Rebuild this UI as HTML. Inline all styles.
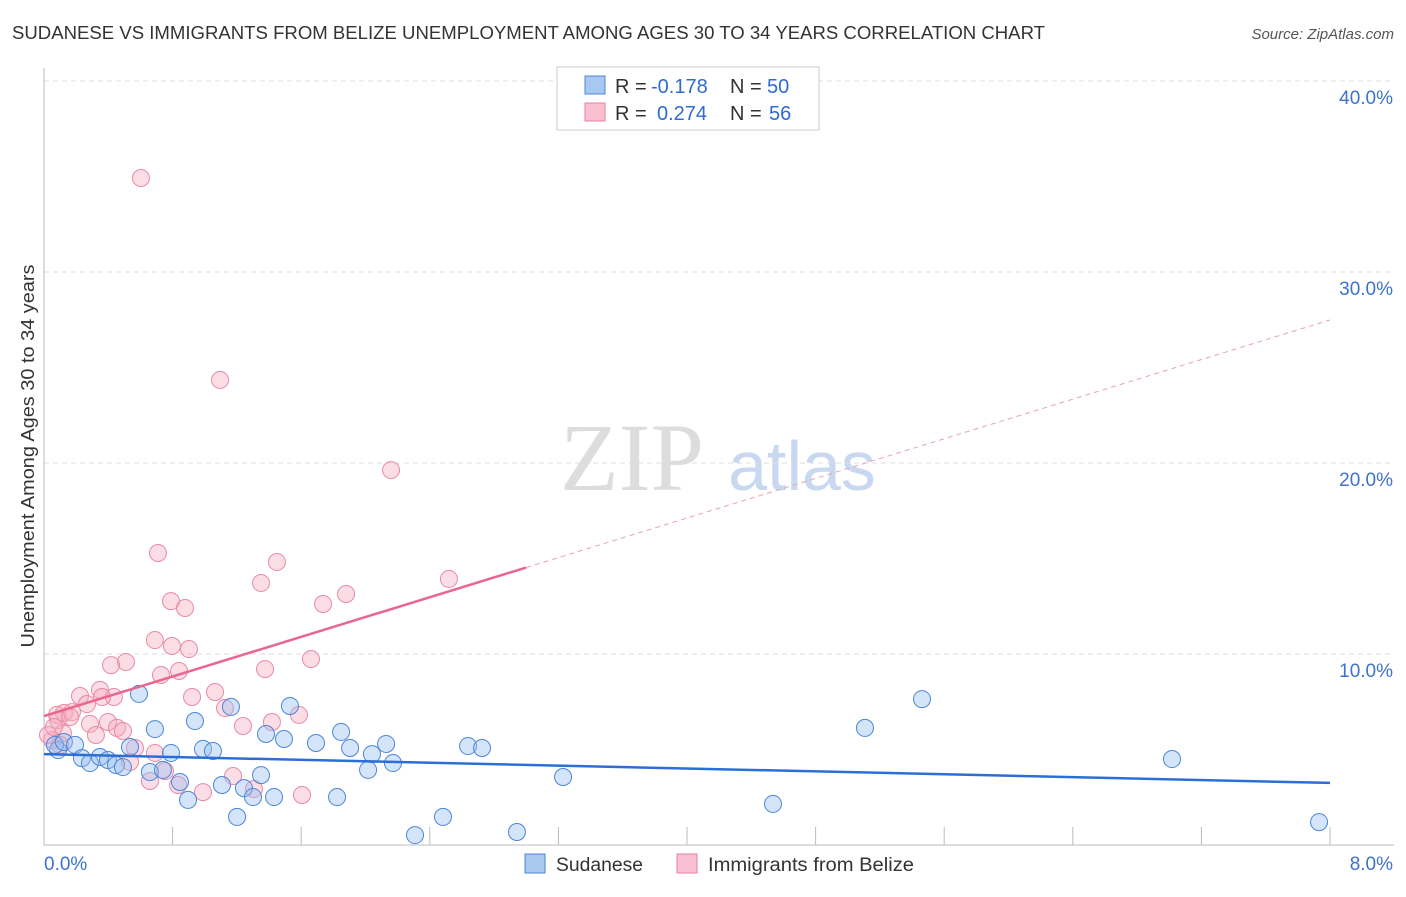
<!DOCTYPE html>
<html><head><meta charset="utf-8"><style>
body{margin:0;background:#fff;font-family:"Liberation Sans",sans-serif}
</style></head><body>
<svg width="1406" height="892" xmlns="http://www.w3.org/2000/svg" font-family="Liberation Sans, sans-serif">
<text x="12" y="39" font-size="18" fill="#333" textLength="1033" lengthAdjust="spacingAndGlyphs">SUDANESE VS IMMIGRANTS FROM BELIZE UNEMPLOYMENT AMONG AGES 30 TO 34 YEARS CORRELATION CHART</text>
<text x="1394" y="39" font-size="15" fill="#555" font-style="italic" text-anchor="end">Source: ZipAtlas.com</text>
<g>
<text x="632" y="490" font-size="96" fill="#ddd" font-family="Liberation Serif, serif" text-anchor="middle">ZIP</text>
<text x="802" y="490" font-size="70" fill="#c8d8f0" text-anchor="middle">atlas</text>
</g>
<g id="grid"></g>
<g id="axes"></g>
<g id="marks"></g>
<text x="34" y="456" font-size="18" fill="#333" transform="rotate(-90 34 456)" text-anchor="middle" textLength="383" lengthAdjust="spacingAndGlyphs">Unemployment Among Ages 30 to 34 years</text>
<g>
<rect x="557" y="67" width="262" height="63" fill="#fff" stroke="#ccc"/>
<rect x="585" y="76" width="20" height="18" fill="#a9c8f0" stroke="#4a86d8"/>
<rect x="585" y="103" width="20" height="18" fill="#f8c0d0" stroke="#e8809f"/>
<text y="93" font-size="20" fill="#333"><tspan x="615">R =</tspan><tspan x="651" fill="#2f6bd0">-0.178</tspan><tspan x="730">N =</tspan><tspan x="767" fill="#2f6bd0">50</tspan></text>
<text y="120" font-size="20" fill="#333"><tspan x="615">R =</tspan><tspan x="657" fill="#2f6bd0">0.274</tspan><tspan x="730">N =</tspan><tspan x="769" fill="#2f6bd0">56</tspan></text>
</g>
<g>
<rect x="525" y="854" width="20" height="19" fill="#a9c8f0" stroke="#4a86d8"/>
<text x="556" y="871" font-size="19" fill="#333" textLength="87" lengthAdjust="spacingAndGlyphs">Sudanese</text>
<rect x="677" y="854" width="20" height="19" fill="#f8c0d0" stroke="#e8809f"/>
<text x="708" y="871" font-size="19" fill="#333" textLength="206" lengthAdjust="spacingAndGlyphs">Immigrants from Belize</text>
</g>
</svg>
<script>
const yTicks=[10,20,30,40];
const yTickLabels=["10.0%","20.0%","30.0%","40.0%"];
const xTickLabels=["0.0%","8.0%"];
const sudX=[0.087,0.068,0.124,0.193,0.236,0.286,0.348,0.398,0.448,0.491,0.535,0.591,0.659,0.690,0.740,0.790,0.846,0.896,0.939,0.989,1.051,1.107,1.163,1.201,1.244,1.300,1.350,1.381,1.431,1.493,1.530,1.692,1.823,1.848,1.904,2.016,2.040,2.128,2.171,2.308,2.482,2.638,2.725,2.942,3.229,4.535,5.107,5.462,7.017,7.932];
const sudY=[4.97,5.24,5.39,5.24,4.55,4.29,4.61,4.45,4.19,4.08,5.13,7.91,3.82,6.07,3.93,4.82,3.30,2.36,6.49,5.03,4.92,3.14,7.23,1.47,2.98,2.51,3.66,5.81,2.51,5.55,7.28,5.34,2.51,5.92,5.08,3.93,4.76,5.29,4.29,0.52,1.47,5.18,5.08,0.68,3.56,2.15,6.13,7.64,4.50,1.20];
const belX=[0.603,1.095,2.159,0.709,1.449,1.350,2.519,1.879,0.790,0.877,1.736,0.690,0.796,0.902,0.510,0.417,1.661,1.375,0.728,0.840,0.921,1.064,0.348,0.224,0.267,0.435,0.361,1.126,1.586,0.124,0.174,0.087,0.286,0.398,0.454,0.491,0.566,1.238,1.418,0.323,0.118,0.050,0.025,0.690,0.535,0.753,1.176,0.659,0.834,0.989,1.306,1.605,0.081,0.162,0.062,0.100];
const belY=[34.92,24.35,19.63,15.29,14.82,13.72,13.93,13.14,12.77,12.41,12.62,10.73,10.42,10.26,9.58,9.42,9.74,9.21,8.90,9.11,7.75,8.01,8.12,7.80,7.38,7.75,7.75,7.17,6.81,6.91,6.96,6.54,6.34,6.44,6.13,5.97,5.08,6.23,6.44,5.76,5.86,5.50,5.76,4.82,4.35,3.87,3.61,3.35,3.14,2.77,2.93,2.62,6.81,6.70,6.18,5.24];
const sudTrend=[4.76,3.25];
const belTrend=[6.75,27.49];
const belSolidEnd=3.0;
const NS="http://www.w3.org/2000/svg";
const X=v=>44+v*160.75, Y=v=>845-v*19.1;
function mk(t,a,p){const e=document.createElementNS(NS,t);for(const k in a)e.setAttribute(k,a[k]);p.appendChild(e);return e;}
const grid=document.getElementById('grid'),axes=document.getElementById('axes'),marks=document.getElementById('marks');
yTicks.forEach((t,i)=>{
 const l=mk('line',{x1:44,x2:1394,y1:Y(t),y2:Y(t),stroke:'#ddd','stroke-dasharray':'5,4'},grid);
 
 
 const tx=mk('text',{x:1393,y:Y(t)+23,'font-size':19,fill:'#3d72cf','text-anchor':'end'},axes);
 tx.textContent=yTickLabels[i];
 
 
});
let a=mk('line',{x1:44,x2:44,y1:68,y2:845,stroke:'#bbb'},axes);


a=mk('line',{x1:44,x2:1394,y1:845,y2:845,stroke:'#bbb'},axes);


for(let i=1;i<=10;i++){const t=mk('line',{x1:X(i*0.8),x2:X(i*0.8),y1:827,y2:845,stroke:'#bbb'},axes);
 
 }
let xl=mk('text',{x:44,y:870,'font-size':19,fill:'#3d72cf'},axes);xl.textContent=xTickLabels[0];


xl=mk('text',{x:1393,y:870,'font-size':19,fill:'#3d72cf','text-anchor':'end'},axes);xl.textContent=xTickLabels[1];


belX.forEach((x,i)=>{const c=mk('circle',{cx:X(x),cy:Y(belY[i]),r:8.5,fill:'rgba(244,170,192,0.4)',stroke:'#e98aa6','stroke-width':1},marks);
 
 });
sudX.forEach((x,i)=>{const c=mk('circle',{cx:X(x),cy:Y(sudY[i]),r:8.5,fill:'rgba(150,190,240,0.4)',stroke:'#4a86d8','stroke-width':1},marks);
 
 });
const bAt=x=>belTrend[0]+(belTrend[1]-belTrend[0])*x/8;
let tl=mk('line',{x1:X(0),y1:Y(sudTrend[0]),x2:X(8),y2:Y(sudTrend[1]),stroke:'#2b6fd6','stroke-width':2.5},marks);


tl=mk('line',{x1:X(0),y1:Y(bAt(0)),x2:X(belSolidEnd),y2:Y(bAt(belSolidEnd)),stroke:'#e8668f','stroke-width':2.5},marks);


tl=mk('line',{x1:X(belSolidEnd),y1:Y(bAt(belSolidEnd)),x2:X(8),y2:Y(bAt(8)),stroke:'#eaa0b8','stroke-width':1,'stroke-dasharray':'5,4'},marks);


</script>
</body></html>
